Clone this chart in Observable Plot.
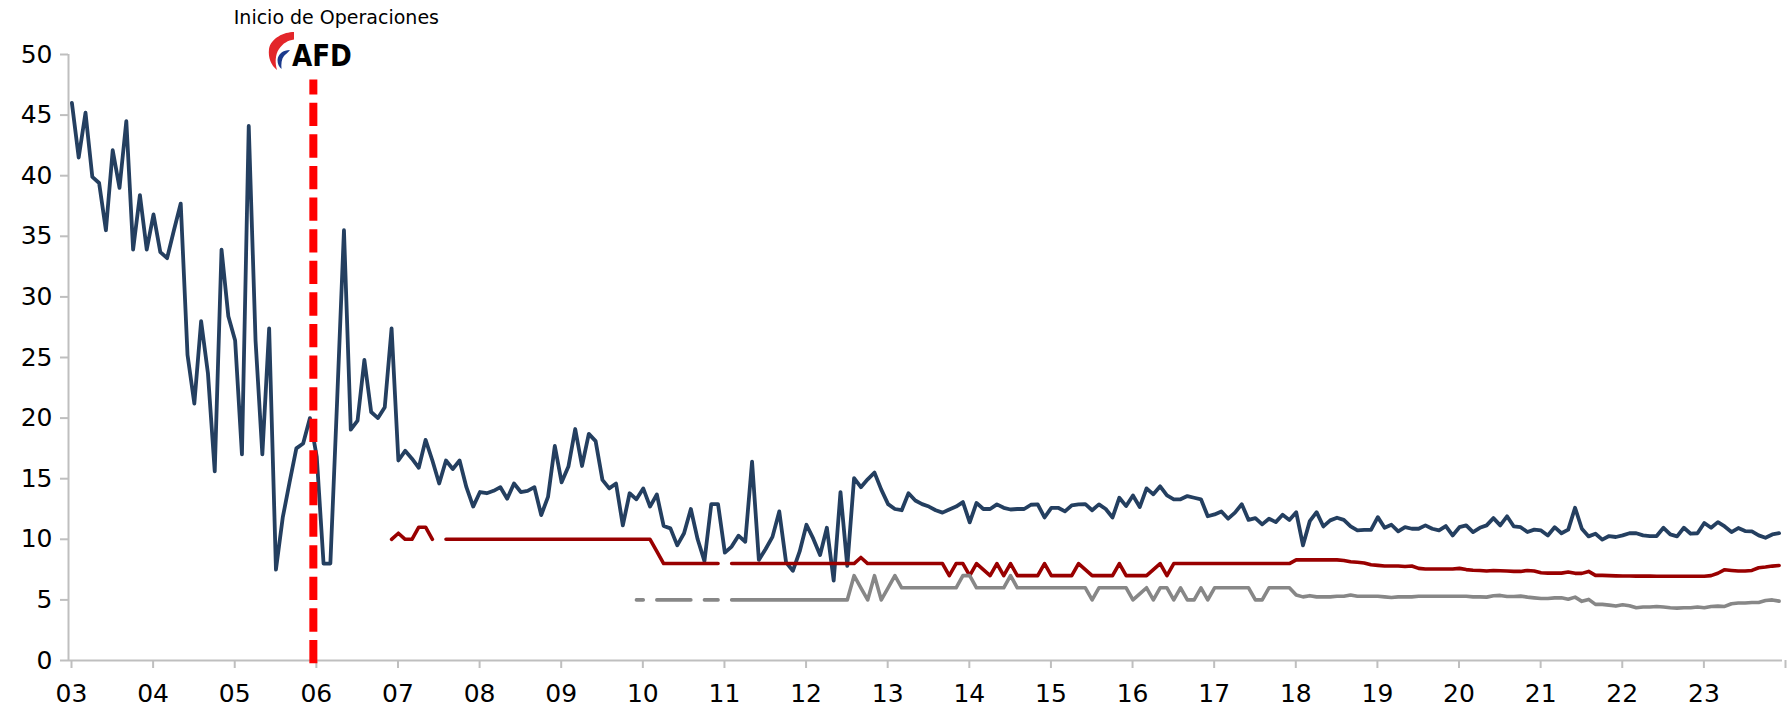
<!DOCTYPE html>
<html><head><meta charset="utf-8">
<script src="https://cdn.jsdelivr.net/npm/d3@7"></script>
<script src="https://cdn.jsdelivr.net/npm/@observablehq/plot@0.6"></script>
<style>
html,body{margin:0;padding:0;background:#fff;}
#chart{position:relative;width:1787px;height:710px;font-family:"DejaVu Sans",sans-serif;}
#logo{position:absolute;top:30px;overflow:visible;}
</style></head><body><div id="chart"></div>
<script>
// ---- data ----
const xTickLabels = ["03","04","05","06","07","08","09","10","11","12","13","14","15","16","17","18","19","20","21","22","23"];
const yTicks = [0,5,10,15,20,25,30,35,40,45,50];
const annotation = "Inicio de Operaciones";
const logoText = "AFD";
const eventMonth = 36; // Jan 2006, months since Jan 2003

// monthly values from Jan 2003 (one row per year)
const navy = [
 46.0, 41.5, 45.2, 39.9, 39.4, 35.5, 42.1, 39.0, 44.5, 33.9, 38.4, 33.9,
 36.8, 33.7, 33.2, 35.5, 37.7, 25.2, 21.2, 28.0, 23.7, 15.6, 33.9, 28.4,
 26.4, 17.0, 44.1, 26.4, 17.0, 27.4, 7.5, 11.8, 14.7, 17.5, 17.9, 20.0,
 16.8, 8.0, 8.0, 21.5, 35.5, 19.05, 19.8, 24.8, 20.5, 20.0, 20.9, 27.4,
 16.5, 17.3, 16.65, 15.9, 18.2, 16.5, 14.6, 16.5, 15.8, 16.5, 14.3, 12.7,
 13.9, 13.8, 14.0, 14.3, 13.35, 14.6, 13.9, 14.0, 14.3, 12.0, 13.5, 17.7,
 14.7, 16.0, 19.1, 16.05, 18.7, 18.1, 14.9, 14.2, 14.6, 11.15, 13.8, 13.3,
 14.2, 12.7, 13.7, 11.1, 10.9, 9.5, 10.5, 12.5, 10.0, 8.2, 12.9, 12.9,
 8.9, 9.4, 10.3, 9.8, 16.4, 8.3, 9.2, 10.2, 12.3, 8.1, 7.4, 9.0,
 11.2, 10.05, 8.7, 10.95, 6.6, 13.9, 7.8, 15.05, 14.3, 14.95, 15.5, 14.1,
 12.9, 12.5, 12.4, 13.8, 13.2, 12.9, 12.7, 12.4, 12.2, 12.46, 12.7, 13.07,
 11.4, 13.0, 12.5, 12.5, 12.88, 12.6, 12.46, 12.5, 12.5, 12.85, 12.88, 11.8,
 12.6, 12.6, 12.3, 12.8, 12.88, 12.9, 12.4, 12.88, 12.5, 11.8, 13.43, 12.74,
 13.62, 12.66, 14.2, 13.71, 14.37, 13.62, 13.3, 13.3, 13.57, 13.43, 13.3, 11.9,
 12.05, 12.3, 11.7, 12.2, 12.9, 11.6, 11.75, 11.23, 11.7, 11.42, 12.02, 11.6,
 12.24, 9.5, 11.5, 12.24, 11.06, 11.56, 11.78, 11.6, 11.06, 10.73, 10.78, 10.78,
 11.83, 10.95, 11.2, 10.65, 11.0, 10.87, 10.87, 11.15, 10.87, 10.73, 11.09, 10.32,
 11.0, 11.15, 10.6, 10.95, 11.15, 11.75, 11.15, 11.9, 11.06, 11.0, 10.6, 10.8,
 10.73, 10.32, 11.0, 10.5, 10.8, 12.6, 10.87, 10.24, 10.46, 9.97, 10.27, 10.19,
 10.32, 10.5, 10.5, 10.32, 10.27, 10.27, 10.95, 10.4, 10.24, 10.95, 10.46, 10.5,
 11.34, 10.95, 11.42, 11.06, 10.6, 10.93, 10.68, 10.65, 10.32, 10.13, 10.4, 10.5
];

const redStart = 47; // Dec 2006
const red = [
 10.0,
 10.5, 10.0, 10.0, 11.0, 11.0, 10.0, null, 10, 10, 10, 10, 10,
 10, 10, 10, 10, 10, 10, 10, 10, 10, 10, 10, 10,
 10, 10, 10, 10, 10, 10, 10, 10, 10, 10, 10, 10,
 10, 10, 9, 8, 8, 8, 8, 8, 8, 8, 8, 8,
 null, 8, 8, 8, 8, 8, 8, 8, 8, 8, 8, 8,
 8, 8, 8, 8, 8, 8, 8, 8, 8.5, 8, 8, 8,
 8, 8, 8, 8, 8, 8, 8, 8, 8, 7, 8, 8,
 7, 8, 7.5, 7, 8, 7, 8, 7, 7, 7, 7, 8,
 7, 7, 7, 7, 8, 7.5, 7, 7, 7, 7, 8, 7,
 7, 7, 7, 7.5, 8, 7, 8, 8, 8, 8, 8, 8,
 8, 8, 8, 8, 8, 8, 8, 8, 8, 8, 8, 8,
 8.3, 8.3, 8.3, 8.3, 8.3, 8.3, 8.3, 8.25, 8.15, 8.1, 8.05, 7.9,
 7.85, 7.8, 7.8, 7.8, 7.75, 7.8, 7.6, 7.55, 7.55, 7.55, 7.55, 7.55,
 7.6, 7.5, 7.45, 7.43, 7.38, 7.43, 7.4, 7.38, 7.35, 7.35, 7.43, 7.38,
 7.24, 7.21, 7.21, 7.21, 7.3, 7.19, 7.19, 7.35, 7.02, 7.02, 7.0, 6.98,
 6.97, 6.97, 6.96, 6.96, 6.96, 6.95, 6.95, 6.95, 6.95, 6.95, 6.95, 6.95,
 6.95, 7.0, 7.2, 7.49, 7.43, 7.38, 7.38, 7.43, 7.65, 7.71, 7.79, 7.84
];

const grayStart = 83; // Dec 2009
const gray = [
 5,
 5, null, 5, 5, 5, 5, 5, 5, null, 5, 5, 5,
 null, 5, 5, 5, 5, 5, 5, 5, 5, 5, 5, 5,
 5, 5, 5, 5, 5, 5, 5, 7, 6, 5, 7, 5,
 6, 7, 6, 6, 6, 6, 6, 6, 6, 6, 6, 7,
 7, 6, 6, 6, 6, 6, 7, 6, 6, 6, 6, 6,
 6, 6, 6, 6, 6, 6, 5, 6, 6, 6, 6, 6,
 5, 5.5, 6, 5, 6, 6, 5, 6, 5, 5, 6, 5,
 6, 6, 6, 6, 6, 6, 5, 5, 6, 6, 6, 6,
 5.4, 5.25, 5.35, 5.25, 5.25, 5.25, 5.3, 5.3, 5.4, 5.3, 5.3, 5.3,
 5.3, 5.25, 5.2, 5.25, 5.25, 5.25, 5.3, 5.3, 5.3, 5.3, 5.3, 5.3,
 5.3, 5.3, 5.25, 5.25, 5.23, 5.34, 5.37, 5.28, 5.28, 5.31, 5.23, 5.17,
 5.12, 5.12, 5.17, 5.17, 5.06, 5.23, 4.88, 5.04, 4.63, 4.63, 4.57, 4.49,
 4.6, 4.52, 4.35, 4.41, 4.41, 4.46, 4.41, 4.35, 4.32, 4.35, 4.35, 4.41,
 4.35, 4.46, 4.49, 4.46, 4.68, 4.74, 4.74, 4.79, 4.79, 4.95, 5.0, 4.9
];

// ---- styling ----
const axisGray = "#bfbfbf";
const navyColor = "#243f60";
const redColor = "#990000";
const grayColor = "#878787";
const nMonths = xTickLabels.length * 12;
const xTicks = d3.range(0, nMonths + 1, 12);

const plot = Plot.plot({
  width: 1787, height: 710,
  marginLeft: 68, marginRight: 5, marginTop: 54, marginBottom: 50,
  x: {type: "linear", domain: [0, nMonths]},
  y: {domain: [0, 50]},
  style: {fontFamily: "DejaVu Sans, sans-serif", color: "#000", background: "#fff", overflow: "visible"},
  marks: [
    Plot.ruleY([0], {x1: 0, x2: nMonths, stroke: axisGray, strokeWidth: 2}),
    Plot.ruleX([0], {y1: 0, y2: 50, stroke: axisGray, strokeWidth: 2}),
    Plot.axisX({ticks: xTicks, tickFormat: d => xTickLabels[d / 12] ?? "", tickSize: 8, tickPadding: 16,
      stroke: axisGray, strokeWidth: 2, fill: "#000", fontSize: 25, dx: 3, label: null}),
    Plot.axisY({ticks: yTicks, tickFormat: d => String(d), tickSize: 8, tickPadding: 8,
      stroke: axisGray, strokeWidth: 2, fill: "#000", fontSize: 25, label: null}),
    Plot.line(navy, {x: (d, i) => i + 0.5, y: d => d, stroke: navyColor, strokeWidth: 3.8, strokeLinejoin: "round", strokeLinecap: "round"}),
    Plot.line(red, {x: (d, i) => redStart + i + 0.5, y: d => d, stroke: redColor, strokeWidth: 3.6, strokeLinejoin: "round", strokeLinecap: "round"}),
    Plot.line(gray, {x: (d, i) => grayStart + i + 0.5, y: d => d, stroke: grayColor, strokeWidth: 3.6, strokeLinejoin: "round", strokeLinecap: "round"}),
    Plot.ruleX([eventMonth], {y1: 47.9, y2: -0.88, stroke: "#ff0000", strokeWidth: 8, strokeDasharray: "23.3,8.3", strokeDashoffset: 8.3}),
    Plot.text([annotation], {x: eventMonth, y: 50, text: d => d, dx: 23, dy: -37, fontSize: 19, fill: "#000", textAnchor: "middle"})
  ]
});
const chart = document.getElementById("chart");
chart.appendChild(plot);

// AFD logo placed at the event line
const cx = plot.scale("x").apply(eventMonth);
const ns = "http://www.w3.org/2000/svg";
const logo = document.createElementNS(ns, "svg");
logo.setAttribute("id", "logo");
logo.setAttribute("width", "90");
logo.setAttribute("height", "45");
logo.style.left = (cx - 46) + "px";
logo.innerHTML = `
  <path d="M27,2 C17,2 4,8 2,19 C1,28 4,35 10,40 C8,33 8,25 12,19 C16,13 21,10.5 27,9.5 Z" fill="#e3262a"/>
  <path d="M23,20 C16,20 11,24 10.5,30 C10.5,34 12,37 14.5,39 C14,34 14.5,29 17,26 C19,24 21,22.5 23,20 Z" fill="#1b3a8c"/>
  <text x="24.9" y="36.3" font-family="DejaVu Sans, sans-serif" font-weight="bold" font-size="31" textLength="60" lengthAdjust="spacingAndGlyphs" fill="#000">${logoText}</text>`;
chart.appendChild(logo);
</script>
</body></html>
